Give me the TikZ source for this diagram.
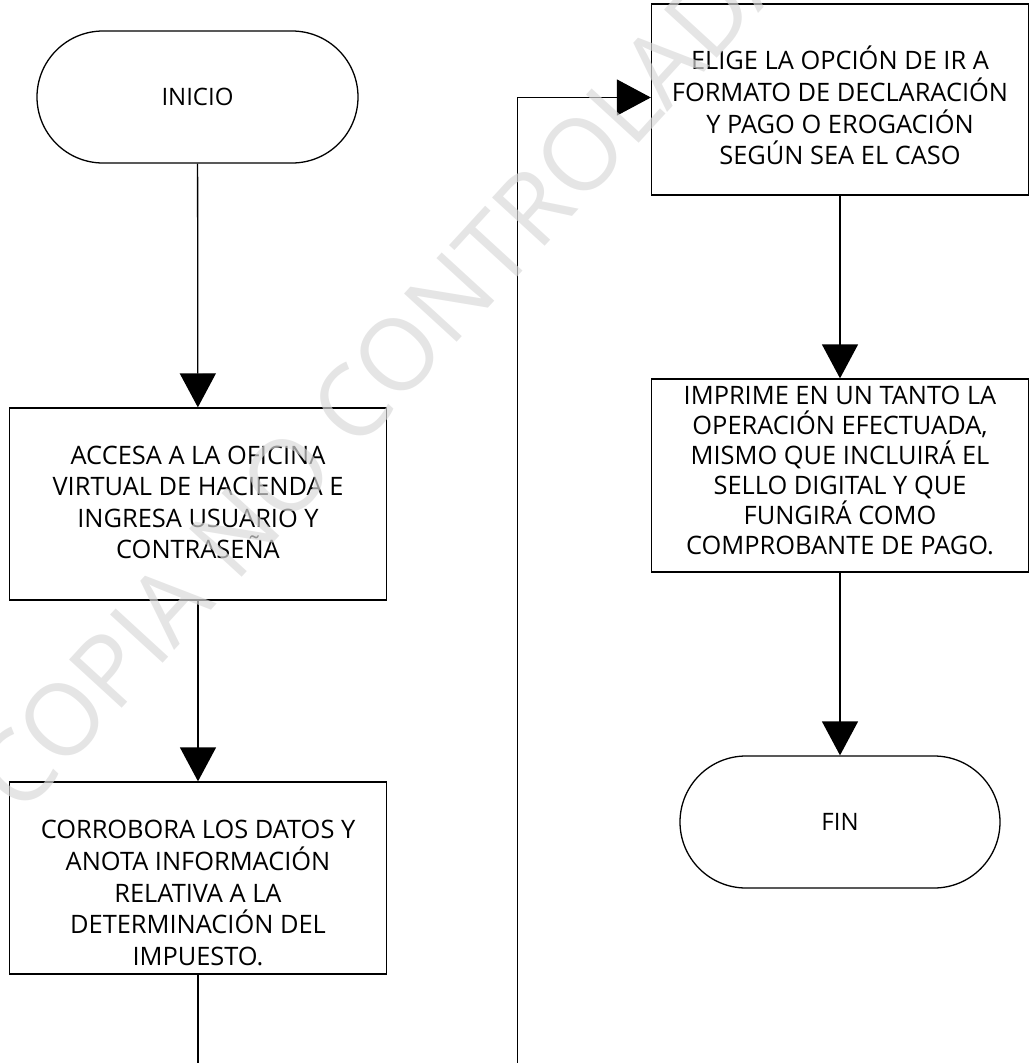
\documentclass[tikz,border=0pt]{standalone}
\usepackage{fontspec}
\setmainfont{Open Sans}
\usetikzlibrary{arrows.meta}
\begin{document}
\begin{tikzpicture}[x=1pt,y=-1pt,
  flow/.style={line width=1.3pt, -{Triangle[length=34pt,width=36pt]}},
  procbox/.style={draw, line width=1.3pt, minimum width=377pt, minimum height=192pt, inner sep=0pt},
  boxtext/.style={align=center, inner sep=0pt, font=\fontsize{25.4}{31.6}\selectfont},
  terminal/.style={draw, line width=1.3pt, rounded corners=66pt, minimum width=321pt,
    minimum height=132pt, inner sep=0pt, font=\fontsize{24}{30}\selectfont},
  stamp/.style={font=\fontsize{100}{110}\selectfont, text=black!15, text opacity=0.68}
]
\useasboundingbox (0,0) rectangle (1030,1063);
\clip (0,0) rectangle (1030,1063);

% left column
\node[terminal] (inicio) at (197.5,97) {INICIO};
\node[procbox] (b1) at (198,504) {};
\node[boxtext] (b1text) at ([yshift=1.5pt]b1.center) {ACCESA A LA OFICINA\\VIRTUAL DE HACIENDA E\\INGRESA USUARIO Y\\CONTRASEÑA};
\node[procbox] (b2) at (198,878) {};
\node[boxtext] (b2text) at ([yshift=-15pt]b2.center) {CORROBORA LOS DATOS Y\\ANOTA INFORMACIÓN\\RELATIVA A LA\\DETERMINACIÓN DEL\\IMPUESTO.};

% right column
\node[procbox, minimum height=191pt] (b3) at (840,99.5) {};
\node[boxtext] (b3text) at ([yshift=-6pt]b3.center) {ELIGE LA OPCIÓN DE IR A\\FORMATO DE DECLARACIÓN\\Y PAGO O EROGACIÓN\\SEGÚN SEA EL CASO};
\node[procbox, minimum height=193pt] (b4) at (840,475.5) {};
\node[boxtext, font=\fontsize{25.4}{30}\selectfont] (b4text) at ([yshift=5pt]b4.center) {IMPRIME EN UN TANTO LA\\OPERACIÓN EFECTUADA,\\MISMO QUE INCLUIRÁ EL\\SELLO DIGITAL Y QUE\\FUNGIRÁ COMO\\COMPROBANTE DE PAGO.};
\node[terminal, minimum width=320pt] (fin) at (840,822) {FIN};

% connectors
\coordinate (loop) at (517.5,1160);
\draw[flow] (inicio) -- (b1);
\draw[flow] (b1) -- (b2);
\draw[flow] (b2.south) |- (loop) |- ([yshift=2pt]b3.west);
\draw[flow] (b3) -- (b4);
\draw[flow] (b4) -- (fin);

% watermark
\node[stamp, rotate=47.5] (marca) at (385,368) {COPIA NO CONTROLADA};
\end{tikzpicture}
\end{document}
